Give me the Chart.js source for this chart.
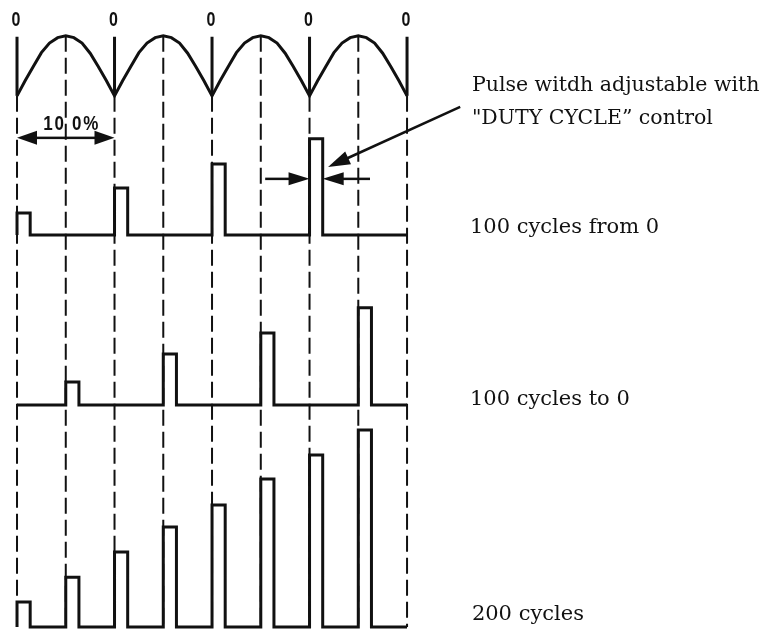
<!DOCTYPE html>
<html lang="en">
<head>
  <meta charset="UTF-8">
  <title>Duty cycle</title>
  <style>
    html, body { margin: 0; padding: 0; background: #fff; }
    #grafico { display: block; }
  </style>
</head>
<body>
  <canvas id="grafico" width="761" height="630"></canvas>

  <script src="https://cdn.jsdelivr.net/npm/chart.js"></script>
  <script>
    // x is measured in half cycles of the carrier, y in pulse-height steps
    const guidePos = [0, 1, 2, 3, 4, 5, 6, 7, 8];
    const zeroPos = [0, 2, 4, 6, 8];
    const zeroLabels = ['0', '0', '0', '0', '0'];

    // one arch of the carrier (fraction of arch, height 0..1)
    const archFrac = [0, 0.083, 0.167, 0.25, 0.333, 0.417, 0.5, 0.583, 0.667, 0.75, 0.833, 0.917, 1];
    const archLevel = [0, 0.25, 0.49, 0.72, 0.88, 0.97, 1, 0.97, 0.88, 0.71, 0.49, 0.25, 0];
    const archCount = 4;

    const fromZeroPos = [0, 2, 4, 6];
    const fromZeroHeight = [0.89, 1.9, 2.87, 3.89];
    const toZeroPos = [1, 3, 5, 7];
    const toZeroHeight = [0.93, 2.06, 2.91, 3.93];
    const allPos = [0, 1, 2, 3, 4, 5, 6, 7];
    const allHeight = [1.01, 2.02, 3.04, 4.05, 4.94, 5.99, 6.96, 7.98];
    const pulseWidth = 0.27;

    const rowLabels = ['100 cycles from 0', '100 cycles to 0', '200 cycles'];

    // layout of the rows (in y steps)
    const row = { carrierLow: 21.62, carrierHigh: 24.05, fromZero: 15.99, toZero: 9.11, all: 0.12 };
    const ink = '#111';

    function pulseTrain(base, pos, height) {
      const pts = [];
      if (pos[0] !== 0) pts.push({ x: 0, y: base });
      pos.forEach((p, i) => {
        pts.push({ x: p, y: base });
        pts.push({ x: p, y: base + height[i] });
        pts.push({ x: p + pulseWidth, y: base + height[i] });
        pts.push({ x: p + pulseWidth, y: base });
      });
      pts.push({ x: 8, y: base });
      return pts;
    }

    function carrier() {
      const pts = [];
      const amp = row.carrierHigh - row.carrierLow;
      for (let k = 0; k < archCount; k++) {
        archFrac.forEach((f, i) => {
          if (k > 0 && i === 0) return;
          pts.push({ x: 2 * k + 2 * f, y: row.carrierLow + amp * archLevel[i] });
        });
      }
      return pts;
    }

    const datasets = [];
    guidePos.forEach(g => {
      const even = g % 2 === 0;
      if (even) {
        datasets.push({ data: [{ x: g, y: row.carrierHigh - 0.04 }, { x: g, y: row.carrierLow }], borderWidth: 3 });
      }
      datasets.push({
        data: [{ x: g, y: even ? row.carrierLow : row.carrierHigh }, { x: g, y: row.all }],
        borderWidth: 2, borderDash: [16, 6]
      });
    });
    datasets.push({ data: carrier(), borderWidth: 3 });
    datasets.push({ data: pulseTrain(row.fromZero, fromZeroPos, fromZeroHeight), borderWidth: 3 });
    datasets.push({ data: pulseTrain(row.toZero, toZeroPos, toZeroHeight), borderWidth: 3 });
    datasets.push({ data: pulseTrain(row.all, allPos, allHeight), borderWidth: 3 });
    datasets.forEach(d => {
      d.showLine = true;
      d.borderColor = ink;
      d.pointRadius = 0;
      d.fill = false;
      d.borderJoinStyle = 'miter';
      d.borderCapStyle = 'butt';
    });

    function arrowHead(ctx, tx, ty, fx, fy, len, half) {
      const a = Math.atan2(ty - fy, tx - fx);
      ctx.beginPath();
      ctx.moveTo(tx, ty);
      ctx.lineTo(tx - len * Math.cos(a) + half * Math.sin(a), ty - len * Math.sin(a) - half * Math.cos(a));
      ctx.lineTo(tx - len * Math.cos(a) - half * Math.sin(a), ty - len * Math.sin(a) + half * Math.cos(a));
      ctx.closePath();
      ctx.fill();
    }

    function arrow(ctx, fx, fy, tx, ty, len, half) {
      const a = Math.atan2(ty - fy, tx - fx);
      ctx.beginPath();
      ctx.moveTo(fx, fy);
      ctx.lineTo(tx - (len - 2) * Math.cos(a), ty - (len - 2) * Math.sin(a));
      ctx.stroke();
      arrowHead(ctx, tx, ty, fx, fy, len, half);
    }

    // narrow bold lettering like the original stencil
    function narrowText(ctx, text, x, y, size, squeeze, spacing) {
      ctx.save();
      ctx.font = 'bold ' + size + 'px "Liberation Sans", sans-serif';
      ctx.letterSpacing = spacing + 'px';
      ctx.textAlign = 'center';
      ctx.textBaseline = 'alphabetic';
      ctx.translate(x, y);
      ctx.scale(squeeze, 1);
      ctx.fillText(text, 0, 0);
      ctx.restore();
    }

    const notes = {
      id: 'notes',
      afterDatasetsDraw(chart) {
        const ctx = chart.ctx;
        const X = v => chart.scales.x.getPixelForValue(v);
        const Y = v => chart.scales.y.getPixelForValue(v);
        ctx.save();
        ctx.fillStyle = ink;
        ctx.strokeStyle = ink;
        ctx.lineWidth = 2.5;

        zeroPos.forEach((p, i) => narrowText(ctx, zeroLabels[i], X(p) - 1, Y(24.45), 20, 0.8, 0));

        // one full period
        const yp = Y(19.92);
        arrow(ctx, X(1), yp, X(0), yp, 20, 7);
        arrow(ctx, X(1), yp, X(2), yp, 20, 7);
        narrowText(ctx, '10 0%', X(1.12), Y(20.24), 20, 0.85, 2);

        // pulse width
        const yw = Y(18.26);
        arrow(ctx, X(5.09), yw, X(6), yw, 21, 6.5);
        arrow(ctx, X(7.24), yw, X(6 + pulseWidth), yw, 21, 6.5);
        arrow(ctx, X(9.09), Y(21.17), X(6.38), Y(18.74), 22, 7);

        ctx.textAlign = 'left';
        ctx.textBaseline = 'alphabetic';
        ctx.font = '20.5px "DejaVu Serif", serif';
        ctx.fillText('Pulse witdh adjustable with', X(9.33), Y(21.82));
        ctx.fillText('"DUTY CYCLE\u201D control', X(9.33), Y(20.49));

        ctx.font = '21px "DejaVu Serif", serif';
        ctx.fillText(rowLabels[0], X(9.29), Y(16.07));
        ctx.fillText(rowLabels[1], X(9.29), Y(9.11));
        ctx.fillText(rowLabels[2], X(9.33), Y(0.4));
        ctx.restore();
      }
    };

    new Chart(document.querySelector('#grafico'), {
      type: 'scatter',
      data: { datasets },
      options: {
        responsive: false,
        animation: false,
        events: [],
        layout: { padding: 0 },
        plugins: { legend: { display: false }, tooltip: { enabled: false } },
        scales: {
          x: { type: 'linear', display: false, min: -0.349, max: 15.26 },
          y: { type: 'linear', display: false, min: 0, max: 25.5 }
        }
      },
      plugins: [notes]
    });
  </script>
</body>
</html>
